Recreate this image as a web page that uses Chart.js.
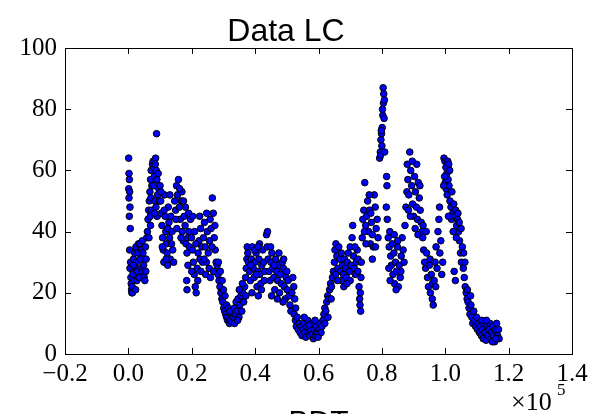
<!DOCTYPE html>
<html>
<head>
<meta charset="utf-8">
<script src="https://cdn.jsdelivr.net/npm/chart.js@4.4.1/dist/chart.umd.min.js"></script>
<style>
  html, body { margin: 0; padding: 0; background: #fff; overflow: hidden; }
</style>
</head>
<body>
<canvas id="lcChart" width="594" height="414"></canvas>
<script>
// light curve points, [time in units of 1e3, flux]
const lcPartA = [
  [0.1,64],[0.2,59],[0.3,57],[0.1,54],[0.4,53],[0.2,51],[0.5,48],[0.3,45],[0.6,41],[0.4,34],[0.7,30],[0.5,28],[0.8,25],[0.9,23],[1.0,21],[1.1,20],
  [1.2,22],[1.4,26],[1.6,31],[1.8,24],[2.0,33],[2.2,28],[2.4,35],[2.6,30],[2.8,27],[3.0,33],[1.3,20],[2.3,21],[1.5,29],[2.7,24],[3.2,36],[3.4,25],
  [3.6,36],[3.8,31],[4.0,28],[4.2,34],[4.4,37],[4.6,33],[4.8,29],[5.0,25],[5.2,24],[4.5,27],[5.4,35],[5.6,31],[5.8,38],[5.5,27],
  [6.0,40],[6.2,44],[6.4,47],[6.6,50],[6.8,53],[7.0,57],[7.2,60],[7.4,55],[7.6,62],[6.5,38],[7.0,42],[7.3,47],[6.9,45],[7.1,51],
  [7.8,63],[8.0,61],[8.2,58],[8.9,72],[8.6,64],[8.8,60],[9.0,57],[9.2,52],[8.1,55],[8.4,50],[8.7,48],[9.1,45],[8.3,46],[8.5,62],[9.4,59],[9.6,54],[9.8,50]
];
const lcPartB = [
  [10.0,55],[10.2,50],[10.4,46],[10.6,42],[10.8,38],[11.0,34],[11.2,30],[11.4,52],[11.6,45],[11.8,40],[12.0,36],[12.2,33],[12.4,29],[12.6,48],
  [12.8,43],[13.0,38],[13.2,31],[10.7,35],[11.9,31],[13.1,52],[10.3,53],[11.3,47],[12.5,41],[13.4,45],[13.6,36],[13.8,40],[14.0,34],[14.3,30],
  [14.6,50],[14.9,47],[15.2,55],[15.5,52],[15.8,57],[16.1,48],[16.4,44],[16.7,50],[17.0,40],[17.3,37],[17.6,45],[17.9,42],[18.2,36],[18.5,33],
  [18.8,29],[19.1,40],[15.3,41],[16.6,38],[18.4,24],[18.5,21],[19.0,46],[16.9,53],[15.0,44],[16.2,54],[17.4,50],[18.0,48],[18.7,38],[19.3,35],
  [19.6,44],[19.9,38],[20.2,34],[20.5,30],[20.8,26],[21.1,22],[21.4,20],[21.7,28],[22.0,33],[22.3,37],[22.6,31],[22.9,27],[23.2,35],[20.3,45],
  [20.9,40],[21.9,24],[22.8,41],[20.0,27],[21.3,36],[22.5,45],[23.4,30],
  [23.7,38],[24.0,43],[24.3,35],[24.6,30],[24.9,40],[25.2,33],[25.5,28],[25.8,44],[26.1,41],[26.5,51],[26.8,46],[27.1,38],[27.4,34],[27.7,30],
  [24.4,26],[25.9,25],[26.9,27],[24.7,46],[25.6,37],[26.4,35],[27.3,42],[23.9,31]
];
const lcPartC = [
  [28.0,29],[28.3,26],[28.6,24],[28.9,22],[29.2,20],[29.5,18],[29.8,17],[30.1,15],[30.4,14],[30.7,13],[31.0,12],[31.3,11],[31.6,12],[31.9,10],
  [32.2,11],[32.5,13],[32.8,10.5],[28.4,30],[29.0,27],[30.0,21],[31.0,16],[29.6,24],[30.5,19],[31.5,15],[32.0,14],
  [33.1,12],[33.4,15],[33.7,13],[34.0,17],[34.3,14],[34.6,18],[34.9,12],[35.2,16],[35.5,19],[35.8,14],[36.1,20],[36.4,17],[36.7,22],[33.5,10],
  [34.5,11],[35.0,21],[36.0,23],
  [37.0,25],[37.2,28],[37.4,31],[37.5,35],[37.7,33],[37.9,30],[37.1,19],
  [38.2,27],[38.5,24],[38.8,31],[39.1,35],[39.4,28],[39.7,25],[40.0,30],[40.3,33],[40.6,22],[40.9,27],[41.2,31],[41.5,26],[41.8,23],[42.1,29],
  [42.4,34],[42.7,30],[43.0,27],[43.6,39],[43.9,40],[43.8,35],[44.1,31],[39.0,20],[41.0,19],[42.0,21],[38.6,29],[39.9,34],[41.4,36],[42.9,24],
  [40.4,26],[40.9,35]
];
const lcPartD = [
  [44.4,27],[44.7,24],[45.0,30],[45.3,33],[45.6,28],[45.9,25],[46.2,21],[46.5,31],[46.8,27],[47.1,24],[47.4,29],[47.7,20],[48.0,26],[48.3,23],
  [48.6,30],[48.9,28],[49.2,22],[49.5,18],[49.8,25],[50.1,21],[50.4,24],[50.7,19],[51.0,16],[51.3,14],[51.6,20],[45.2,19],[47.0,18],[48.8,17],
  [50.0,27],[44.9,35],[46.0,29],[47.5,33],[49.0,31],
  [51.9,25],[52.2,22],[52.5,18],[52.8,15],[52.3,13],[52.7,11],[53.0,9],[53.3,12],[53.6,8],[53.9,10],[54.2,7],[54.5,9],
  [54.8,6],[55.1,8],[55.4,10],[55.7,7],[56.0,5.5],[56.3,9],[56.6,11],[56.9,7],[57.2,6],[57.5,8],[57.8,10],[58.1,6.5],[58.4,5],[58.7,8],
  [59.0,6],[59.3,9],[59.6,7],[59.9,5.5],[60.2,8],[60.5,10],[60.8,7],[55.5,12],[57.0,9.5],[58.9,11],
  [61.1,9],[61.4,11],[61.7,13],[62.0,15],[62.3,14],[62.6,17],[62.9,19],[63.2,18],[63.5,21],[63.8,23],[64.1,22],[64.4,25],[64.7,27],[62.0,10],
  [63.0,12],[64.0,18]
];
const lcPartE = [
  [65.0,30],[65.2,34],[65.5,36],[65.8,32],[66.1,28],[66.4,35],[66.7,31],[67.0,27],[67.3,24],[67.6,29],[67.9,26],[68.2,31],[68.5,28],[68.8,25],
  [69.1,30],[69.4,33],[69.7,27],[70.0,24],[70.3,29],[70.6,38],[70.8,42],[71.0,32],[71.3,28],[71.6,26],[71.9,30],[72.2,34],[72.5,31],[72.8,22],
  [73.0,18],[73.1,16],[66.0,24],[68.0,22],[70.0,35],[65.4,26],[67.2,33],[69.0,23],[71.5,35],[72.4,27],[73.2,20],[73.4,25],[73.5,30],[73.3,14],
  [73.8,38],[74.0,44],[74.3,47],[74.6,56],[74.9,42],[75.2,45],[75.5,50],[75.8,40],[76.1,47],[76.4,36],[76.7,43],[77.0,39],[77.3,35],[77.6,52],
  [77.9,48],[78.2,41],[78.5,44],[78.8,38],[75.0,36],[76.0,52],[77.0,31],[74.5,40],[76.5,46],[78.0,35],
  [79.3,64],[79.5,66],[79.7,70],[79.9,72],[80.1,74],[80.3,78],[80.5,82],[80.6,85],[80.4,87],[80.8,83],[80.2,80],[80.7,77],[80.0,68],[79.6,65],
  [80.9,66],[79.8,73],
  [81.5,58],[81.6,55],[81.4,48],[81.7,44]
];
const lcPartF = [
  [82.0,38],[82.3,35],[82.5,40],[82.8,32],[83.0,29],[83.3,36],[83.5,26],[83.8,33],[84.0,23],[84.3,30],[84.6,27],[84.9,35],[85.2,22],[85.5,29],
  [85.8,25],[86.1,32],[86.4,38],[86.7,34],[87.0,30],[82.2,28],[83.9,39],[85.0,37],[82.6,24],[84.5,21],[86.0,27],
  [87.3,42],[87.6,48],[87.9,53],[88.2,57],[88.5,52],[88.8,66],[89.1,60],[89.4,55],[89.7,49],[90.0,45],[90.3,58],[90.6,53],[90.9,48],[91.2,44],
  [91.5,56],[91.8,51],[92.1,47],[92.4,43],[88.0,62],[89.0,45],[90.5,41],[91.0,62],[92.0,55],[92.7,40],[88.4,47],[89.6,63],[91.4,39],
  [92.9,38],[93.2,34],[93.5,30],[93.8,28],[94.1,33],[94.4,25],[94.7,22],[95.0,29],[95.3,20],[95.6,26],[95.9,18],[96.2,16],[96.0,23],[94.0,40],
  [93.0,42],[95.2,31]
];
const lcPartG = [
  [96.5,24],[96.8,30],[97.1,35],[97.4,28],[97.7,40],[98.0,44],[98.3,33],[98.6,37],[98.9,26],[99.2,30],[97.0,22],[98.2,48],
  [99.6,64],[99.9,63],[100.2,61],[100.5,59],[100.8,63],[101.1,62],[101.4,60],[100.0,56],[100.3,54],[100.6,52],[100.9,57],[101.2,55],[101.5,50],
  [101.8,48],[102.1,53],[99.8,58],[102.4,46],[102.0,44],[99.5,55],[101.0,45],
  [102.7,49],[103.0,45],[103.3,47],[103.6,42],[103.9,44],[104.2,40],[104.5,37],[104.8,33],[105.1,30],[105.4,35],[103.5,38],[104.0,46],[102.8,27],
  [103.2,24],[102.5,40],[104.4,43],[105.0,41],
  [105.7,28],[106.0,25],[106.3,22],[106.6,20],[106.9,18],[106.2,30],[105.8,33],
  [107.2,17],[107.5,15],[107.8,13],[108.1,16],[108.4,12],[108.7,10],[109.0,14],[109.3,11],[109.6,9],[109.9,12],[110.2,8],[110.5,10],[107.0,21],
  [108.0,19],
  [110.8,7],[111.1,9],[111.4,6],[111.7,8],[112.0,5],[112.3,10],[112.6,7],[112.9,4.5],[113.2,9],[113.5,6],[113.8,8],[114.1,10],[114.4,5],[114.7,7],
  [115.0,9],[115.3,6],[115.6,4],[115.9,8],[116.2,10],[116.5,6],[116.8,8],[117.0,5],[111.5,11],[113.0,11],[114.9,4],[116.0,5]
];

const xTickVals = [-0.2, 0.0, 0.2, 0.4, 0.6, 0.8, 1.0, 1.2, 1.4]; // x 1e5
const yTickVals = [0, 20, 40, 60, 80, 100];

const allParts = [lcPartA, lcPartB, lcPartC, lcPartD, lcPartE, lcPartF, lcPartG];
const points = [];
allParts.forEach(function(part) {
    part.forEach(function(p) {
        points.push({ x: p[0] * 1000, y: p[1] });
    });
});

// matplotlib style box with inward ticks, offset label and clipped xlabel
const frameTicks = {
    id: 'frameTicks',
    afterDraw: function(chart) {
        const ctx = chart.ctx;
        const a = chart.chartArea;
        const xs = chart.scales.x, ys = chart.scales.y;
        ctx.save();
        ctx.strokeStyle = '#000';
        ctx.lineWidth = 1;
        ctx.strokeRect(Math.round(a.left) + 0.5, Math.round(a.top) + 0.5,
            Math.round(a.right - a.left), Math.round(a.bottom - a.top));
        ctx.beginPath();
        xTickVals.forEach(function(v) {
            const px = Math.round(xs.getPixelForValue(v * 1e5)) + 0.5;
            ctx.moveTo(px, a.bottom); ctx.lineTo(px, a.bottom - 6);
            ctx.moveTo(px, a.top); ctx.lineTo(px, a.top + 6);
        });
        yTickVals.forEach(function(v) {
            const py = Math.round(ys.getPixelForValue(v)) + 0.5;
            ctx.moveTo(a.left, py); ctx.lineTo(a.left + 6, py);
            ctx.moveTo(a.right, py); ctx.lineTo(a.right - 6, py);
        });
        ctx.stroke();

        ctx.fillStyle = '#000';
        ctx.textBaseline = 'alphabetic';
        ctx.textAlign = 'left';
        ctx.font = '26px "Liberation Serif"';
        ctx.fillText('\u00d710', 511, 410);
        ctx.font = '17px "Liberation Serif"';
        ctx.fillText('5', 557, 395);

        ctx.textAlign = 'center';
        ctx.font = '30px "Liberation Sans"';
        ctx.fillText('BDT', (a.left + a.right) / 2, 431);
        ctx.restore();
    }
};

const ctx = document.getElementById('lcChart').getContext('2d');
const lcChart = new Chart(ctx, {
    type: 'scatter',
    data: {
        datasets: [{
            label: 'Data LC',
            data: points,
            backgroundColor: '#0000ff',
            borderColor: '#000000',
            borderWidth: 1,
            pointRadius: 3.3
        }]
    },
    options: {
        responsive: false,
        animation: false,
        layout: { padding: { left: 0, right: 22, top: 0, bottom: 0 } },
        plugins: {
            legend: { display: false },
            tooltip: { enabled: false },
            title: {
                display: true,
                text: 'Data LC',
                color: '#000',
                font: { family: '"Liberation Sans"', size: 32, weight: 'normal', lineHeight: 1.0 },
                padding: { top: 16, bottom: 0 }
            }
        },
        scales: {
            x: {
                type: 'linear',
                min: -20000,
                max: 140000,
                afterBuildTicks: function(scale) {
                    scale.ticks = xTickVals.map(function(v) { return { value: v * 1e5 }; });
                },
                afterFit: function(scale) { scale.height = 60; },
                grid: { display: false, drawTicks: false },
                border: { display: false },
                ticks: {
                    color: '#000',
                    padding: 5,
                    maxRotation: 0,
                    autoSkip: false,
                    font: { family: '"Liberation Serif"', size: 25 },
                    callback: function(v) { return (v / 1e5).toFixed(1).replace('-', '\u2212'); }
                }
            },
            y: {
                min: 0,
                max: 100,
                afterBuildTicks: function(scale) {
                    scale.ticks = yTickVals.map(function(v) { return { value: v }; });
                },
                afterFit: function(scale) { scale.width = 65; },
                grid: { display: false, drawTicks: false },
                border: { display: false },
                ticks: {
                    color: '#000',
                    padding: 8,
                    font: { family: '"Liberation Serif"', size: 25 }
                }
            }
        }
    },
    plugins: [frameTicks]
});
</script>
</body>
</html>
